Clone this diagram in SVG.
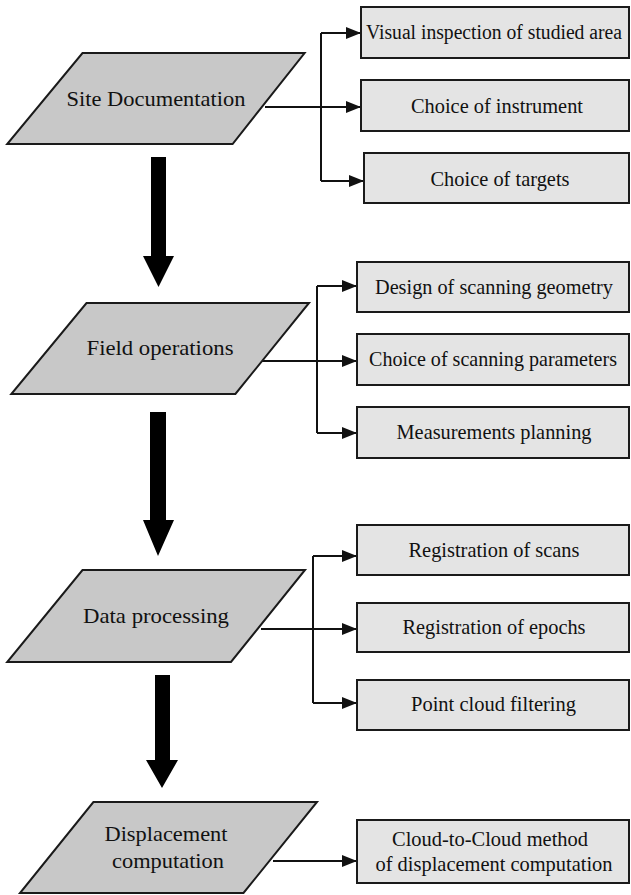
<svg xmlns="http://www.w3.org/2000/svg" width="631" height="895" viewBox="0 0 631 895">
<style>
.para{fill:#c8c8c8;stroke:#1a1a1a;stroke-width:2}
.box{fill:#e4e4e4;stroke:#1a1a1a;stroke-width:2}
text{font-family:"Liberation Serif","Times New Roman",serif;font-size:21px;fill:#111;text-anchor:middle}
.conn{fill:none;stroke:#111;stroke-width:2}
.big{fill:#000}
</style>
<defs>
<marker id="ah" markerUnits="userSpaceOnUse" markerWidth="16" markerHeight="12" refX="15" refY="6" orient="auto">
<path d="M0,0 L15,6 L0,12 Z" fill="#111"/>
</marker>
</defs>
<rect width="631" height="895" fill="#fff"/>

<g id="connectors">
<path class="conn" d="M321,33 V181"/>
<path class="conn" d="M321,33 H361" marker-end="url(#ah)"/>
<path class="conn" d="M265,107 H361" marker-end="url(#ah)"/>
<path class="conn" d="M321,181 H364" marker-end="url(#ah)"/>
<path class="conn" d="M317,286 V433"/>
<path class="conn" d="M317,286 H357" marker-end="url(#ah)"/>
<path class="conn" d="M262,361 H357" marker-end="url(#ah)"/>
<path class="conn" d="M317,433 H357" marker-end="url(#ah)"/>
<path class="conn" d="M313,556 V703"/>
<path class="conn" d="M313,556 H357" marker-end="url(#ah)"/>
<path class="conn" d="M261,629 H357" marker-end="url(#ah)"/>
<path class="conn" d="M313,703 H357" marker-end="url(#ah)"/>
<path class="conn" d="M273,861 H357" marker-end="url(#ah)"/>
<polygon class="big" points="151,157 166,157 166,256 174,256 158.5,287 143,256 151,256"/>
<polygon class="big" points="150,412 166,412 166,520 174,520 158,556 143,520 150,520"/>
<polygon class="big" points="155,675 170,675 170,760 178,760 162,788 146,760 155,760"/>
</g>

<g id="site-documentation">
<polygon class="para" points="82.5,53 304.6,53 232.6,144 7.2,144"/>
<text x="156" y="106" textLength="179" lengthAdjust="spacingAndGlyphs">Site Documentation</text>
</g>
<g id="field-operations">
<polygon class="para" points="86.5,303 309,303 235.4,394 11.3,394"/>
<text x="160" y="355" textLength="147" lengthAdjust="spacingAndGlyphs">Field operations</text>
</g>
<g id="data-processing">
<polygon class="para" points="82.5,570 305,570 231,662 7.2,662"/>
<text x="156" y="623" textLength="146" lengthAdjust="spacingAndGlyphs">Data processing</text>
</g>
<g id="displacement-computation">
<polygon class="para" points="93.4,802 317,802 243.5,893 20,893"/>
<text x="166" y="841" textLength="123" lengthAdjust="spacingAndGlyphs">Displacement</text>
<text x="168" y="868" textLength="112" lengthAdjust="spacingAndGlyphs">computation</text>
</g>

<g id="visual-inspection">
<rect class="box" x="361" y="7" width="268" height="51"/>
<text x="494" y="39" style="font-size:20px" textLength="256" lengthAdjust="spacingAndGlyphs">Visual inspection of studied area</text>
</g>
<g id="choice-instrument">
<rect class="box" x="361" y="80" width="268" height="51"/>
<text x="497" y="113" textLength="172" lengthAdjust="spacingAndGlyphs">Choice of instrument</text>
</g>
<g id="choice-targets">
<rect class="box" x="364" y="153" width="265" height="50"/>
<text x="500" y="186" textLength="139" lengthAdjust="spacingAndGlyphs">Choice of targets</text>
</g>
<g id="design-geometry">
<rect class="box" x="357" y="262" width="272" height="50"/>
<text x="494" y="294" textLength="238" lengthAdjust="spacingAndGlyphs">Design of scanning geometry</text>
</g>
<g id="scanning-parameters">
<rect class="box" x="357" y="334" width="272" height="51"/>
<text x="493" y="366" textLength="248" lengthAdjust="spacingAndGlyphs">Choice of scanning parameters</text>
</g>
<g id="measurements-planning">
<rect class="box" x="357" y="407" width="272" height="51"/>
<text x="494" y="439" textLength="195" lengthAdjust="spacingAndGlyphs">Measurements planning</text>
</g>
<g id="registration-scans">
<rect class="box" x="357" y="525" width="272" height="50"/>
<text x="494" y="557" textLength="171" lengthAdjust="spacingAndGlyphs">Registration of scans</text>
</g>
<g id="registration-epochs">
<rect class="box" x="357" y="603" width="272" height="49"/>
<text x="494" y="634" textLength="183" lengthAdjust="spacingAndGlyphs">Registration of epochs</text>
</g>
<g id="point-cloud-filtering">
<rect class="box" x="357" y="680" width="272" height="50"/>
<text x="493.5" y="711" textLength="165" lengthAdjust="spacingAndGlyphs">Point cloud filtering</text>
</g>
<g id="cloud-to-cloud">
<rect class="box" x="357" y="820" width="272" height="63"/>
<text x="490" y="846" textLength="196" lengthAdjust="spacingAndGlyphs">Cloud-to-Cloud method</text>
<text x="494" y="871" textLength="237" lengthAdjust="spacingAndGlyphs">of displacement computation</text>
</g>
</svg>
